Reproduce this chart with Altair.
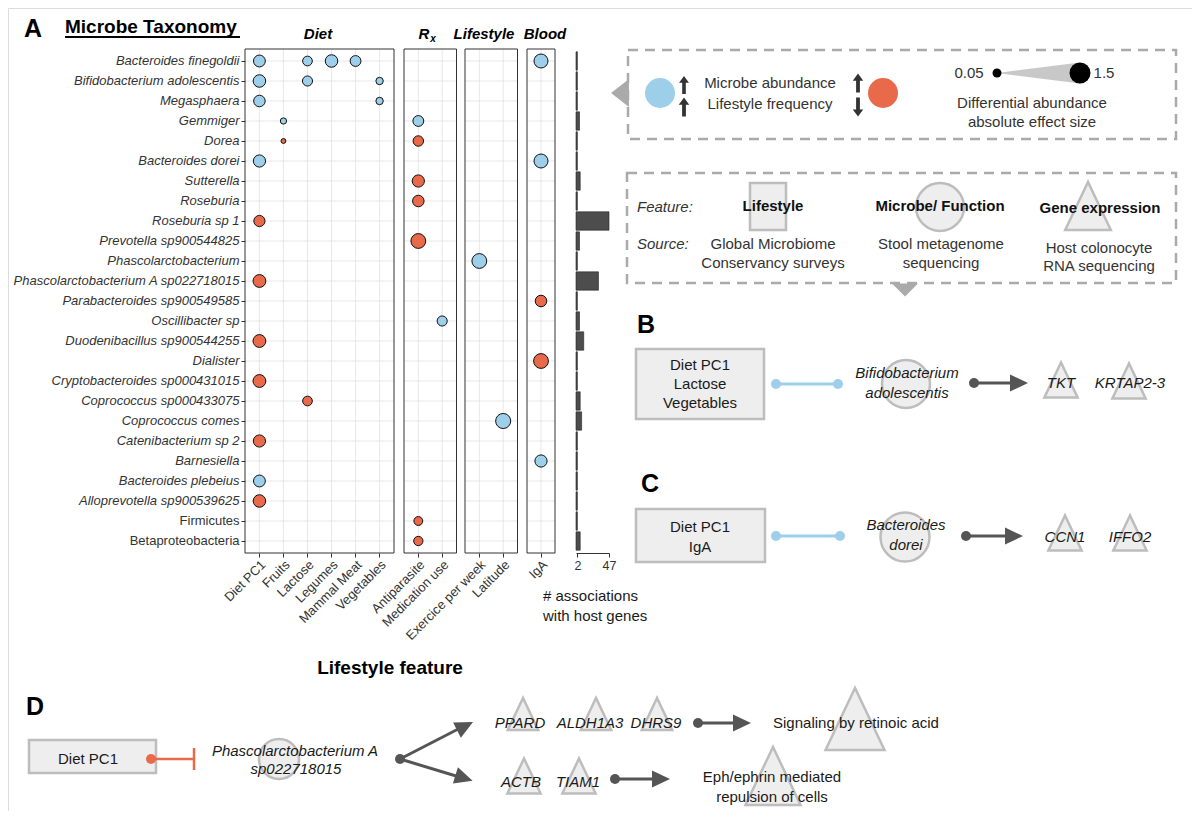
import altair as alt
import pandas as pd

FONT = "Liberation Sans"
BLUE = "#9DCFEB"
RED = "#E96A4B"
SHAPE_FILL = "#EEEEEE"
SHAPE_LINE = "#BDBDBD"
DARK = "#555555"
INK = "#1a1a1a"
W, H = 1184, 803
M = 8  # page margin: layout below is in page pixels

# ---------------- data ----------------
taxa = [
    "Bacteroides finegoldii", "Bifidobacterium adolescentis", "Megasphaera", "Gemmiger", "Dorea",
    "Bacteroides dorei", "Sutterella", "Roseburia", "Roseburia sp 1", "Prevotella sp900544825",
    "Phascolarctobacterium", "Phascolarctobacterium A sp022718015", "Parabacteroides sp900549585",
    "Oscillibacter sp", "Duodenibacillus sp900544255", "Dialister", "Cryptobacteroides sp000431015",
    "Coprococcus sp000433075", "Coprococcus comes", "Catenibacterium sp 2", "Barnesiella",
    "Bacteroides plebeius", "Alloprevotella sp900539625", "Firmicutes", "Betaproteobacteria",
]
upper_rank_taxa = ["Firmicutes", "Betaproteobacteria"]
n_host_gene_assoc = [2, 2, 2, 5, 2, 2, 6, 2, 47, 5, 2, 32, 2, 5, 11, 2, 2, 6, 8, 2, 2, 2, 2, 2, 6]
assoc_ticks = [2, 47]

diet_features = ["Diet PC1", "Fruits", "Lactose", "Legumes", "Mammal Meat", "Vegetables"]
rx_features = ["Antiparasite", "Medication use"]
life_features = ["Exercice per week", "Latitude"]
blood_features = ["IgA"]

assoc_taxon = [
    "Bacteroides finegoldii", "Bacteroides finegoldii", "Bacteroides finegoldii", "Bacteroides finegoldii", "Bacteroides finegoldii",
    "Bifidobacterium adolescentis", "Bifidobacterium adolescentis", "Bifidobacterium adolescentis",
    "Megasphaera", "Megasphaera",
    "Gemmiger", "Gemmiger",
    "Dorea", "Dorea",
    "Bacteroides dorei", "Bacteroides dorei",
    "Sutterella", "Roseburia", "Roseburia sp 1", "Prevotella sp900544825", "Phascolarctobacterium",
    "Phascolarctobacterium A sp022718015", "Parabacteroides sp900549585", "Oscillibacter sp",
    "Duodenibacillus sp900544255", "Dialister", "Cryptobacteroides sp000431015", "Coprococcus sp000433075",
    "Coprococcus comes", "Catenibacterium sp 2", "Barnesiella", "Bacteroides plebeius",
    "Alloprevotella sp900539625", "Firmicutes", "Betaproteobacteria",
]
assoc_feature = [
    "Diet PC1", "Lactose", "Legumes", "Mammal Meat", "IgA",
    "Diet PC1", "Lactose", "Vegetables",
    "Diet PC1", "Vegetables",
    "Fruits", "Antiparasite",
    "Fruits", "Antiparasite",
    "Diet PC1", "IgA",
    "Antiparasite", "Antiparasite", "Diet PC1", "Antiparasite", "Exercice per week",
    "Diet PC1", "IgA", "Medication use",
    "Diet PC1", "IgA", "Diet PC1", "Lactose",
    "Latitude", "Diet PC1", "IgA", "Diet PC1",
    "Diet PC1", "Antiparasite", "Antiparasite",
]
assoc_direction = [
    "up", "up", "up", "up", "up",
    "up", "up", "up",
    "up", "up",
    "up", "up",
    "down", "down",
    "up", "up",
    "down", "down", "down", "down", "up",
    "down", "down", "up",
    "down", "down", "down", "down",
    "up", "down", "up", "up",
    "down", "down", "down",
]
assoc_effect = [
    0.9, 0.6, 1.0, 0.75, 1.25,
    1.0, 0.65, 0.35,
    0.85, 0.35,
    0.25, 0.75,
    0.15, 0.7,
    0.95, 1.25,
    0.95, 0.85, 0.8, 1.4, 1.4,
    1.05, 0.85, 0.65,
    1.05, 1.4, 1.05, 0.6,
    1.45, 0.95, 0.95, 0.9,
    1.0, 0.5, 0.55,
]

# ---------------- layout (page pixels) ----------------
Y_TOP, Y_BOT = 49, 553
PANELS = [
    ("Diet", 245, 394, diet_features),
    ("Rx", 404, 456.5, rx_features),
    ("Lifestyle", 465, 517.5, life_features),
    ("Blood", 527, 555, blood_features),
]
BAR_X = (576, 609)
AXIS_OFFSET = (Y_BOT - M) - H


def px(field):
    return alt.X(f"{field}:Q", scale=alt.Scale(domain=[M, M + W], range=[0, W], nice=False, zero=False), axis=None)


def py(field):
    return alt.Y(f"{field}:Q", scale=alt.Scale(domain=[M, M + H], range=[0, H], nice=False, zero=False), axis=None)


def y_taxon(axis=None):
    return alt.Y("taxon:N", scale=alt.Scale(type="band", domain=taxa, range=[Y_TOP - M, Y_BOT - M],
                                           paddingInner=0, paddingOuter=0.1), axis=axis)


def x_feat(lo, hi, feats, axis=None):
    return alt.X("feature:N", scale=alt.Scale(type="band", domain=feats, range=[lo - M, hi - M],
                                             paddingInner=0, paddingOuter=0.1), axis=axis)


def feat_axis():
    return alt.Axis(orient="bottom", offset=AXIS_OFFSET, labelAngle=-45, labelAlign="right", labelBaseline="top",
                    labelFont=FONT, labelFontSize=13, labelColor="#333333", tickColor="#333333", tickSize=4,
                    domain=False, grid=False, title=None, labelPadding=1, labelLimit=300)


assoc = pd.DataFrame({"taxon": assoc_taxon, "feature": assoc_feature,
                      "direction": assoc_direction, "effect": assoc_effect})
bars_df = pd.DataFrame({"taxon": taxa, "n": n_host_gene_assoc})
taxa_df = pd.DataFrame({"taxon": taxa})

layers = []

# grids, borders and dots of panel A
for name, lo, hi, feats in PANELS:
    feats_df = pd.DataFrame({"feature": feats})
    layers.append(alt.Chart(taxa_df).mark_rule(color="#DEDEDE", strokeWidth=0.7).encode(
        y=y_taxon(), x=alt.value(lo - M), x2=alt.value(hi - M)))
    layers.append(alt.Chart(feats_df).mark_rule(color="#DEDEDE", strokeWidth=0.7).encode(
        x=x_feat(lo, hi, feats), y=alt.value(Y_TOP - M), y2=alt.value(Y_BOT - M)))

border_df = pd.DataFrame({"x": [p[1] for p in PANELS], "x2": [p[2] for p in PANELS],
                          "y": [Y_TOP] * 4, "y2": [Y_BOT] * 4})
layers.append(alt.Chart(border_df).mark_rect(fillOpacity=0, stroke="#333333", strokeWidth=1).encode(
    x=px("x"), x2=alt.X2("x2"), y=py("y"), y2=alt.Y2("y2")))

for i, (name, lo, hi, feats) in enumerate(PANELS):
    sub = assoc[assoc["feature"].isin(feats)]
    yax = None
    if i == 0:
        yax = alt.Axis(orient="left", offset=-(lo - M), labelFont=FONT, labelFontSize=13, labelColor="#333333",
                       labelFontStyle=alt.condition("indexof(" + str(upper_rank_taxa) + ", datum.value) >= 0",
                                                    alt.value("normal"), alt.value("italic")),
                       tickColor="#333333", tickSize=4, domain=False, grid=False, title=None,
                       labelLimit=400, labelPadding=2)
    layers.append(alt.Chart(sub).mark_circle(stroke="#111111", strokeWidth=1, opacity=1).encode(
        x=x_feat(lo, hi, feats, feat_axis()),
        y=y_taxon(yax),
        size=alt.Size("effect:Q", scale=alt.Scale(domain=[0, 1.5], range=[0, 235]), legend=None),
        color=alt.Color("direction:N", scale=alt.Scale(domain=["up", "down"], range=[BLUE, RED]), legend=None),
    ))

layers.append(alt.Chart(bars_df).mark_bar(color="#4D4D4D", stroke="#222222", strokeWidth=0.6,
                                          height={"band": 0.92}).encode(
    x=alt.X("n:Q", scale=alt.Scale(domain=[0, 47], range=[BAR_X[0] - M, BAR_X[1] - M], nice=False),
            axis=alt.Axis(orient="bottom", offset=AXIS_OFFSET, values=assoc_ticks, domain=True,
                          domainColor="#333333", tickColor="#333333", tickSize=4, labelFont=FONT,
                          labelFontSize=12.5, labelColor="#333333", title=None, grid=False, labelPadding=2,
                          labelFlush=False)),
    y=y_taxon()))


# ---------------- schematic helpers ----------------
def rect_layer(boxes, **mark):
    df = pd.DataFrame(boxes, columns=["x", "x2", "y", "y2"])
    return alt.Chart(df).mark_rect(**mark).encode(x=px("x"), x2=alt.X2("x2"), y=py("y"), y2=alt.Y2("y2"))


def sym_layer(items, shape, **mark):
    df = pd.DataFrame(items, columns=["x", "y", "d", "a"])
    df["s"] = df["d"] ** 2
    return alt.Chart(df).mark_point(shape=shape, opacity=1, **mark).encode(
        x=px("x"), y=py("y"), size=alt.Size("s:Q", scale=None), angle=alt.Angle("a:Q", scale=None))


def seg_layer(segs, color, width):
    df = pd.DataFrame(segs, columns=["x", "y", "x2", "y2"])
    return alt.Chart(df).mark_rule(color=color, strokeWidth=width).encode(
        x=px("x"), y=py("y"), x2=alt.X2("x2"), y2=alt.Y2("y2"))


def text_layer(labels, pos, size=15, weight="normal", style="normal", align="center", color=INK):
    df = pd.DataFrame({"label": labels, "x": [p[0] for p in pos], "y": [p[1] for p in pos]})
    return alt.Chart(df).mark_text(font=FONT, fontSize=size, fontWeight=weight, fontStyle=style,
                                   align=align, baseline="middle", color=color).encode(
        x=px("x"), y=py("y"), text="label:N")


TRI = "M0,-1L-0.95,1L0.95,1Z"
HEAD = "M-1,-0.95L1,0L-1,0.95Z"
UP = "M0,-1L0.55,-0.25L0.2,-0.25L0.2,1L-0.2,1L-0.2,-0.25L-0.55,-0.25Z"
LEFT = "M0.64,-1L0.64,1L-0.64,0Z"
DOWN = "M-1,-0.5L1,-0.5L0,0.5Z"

# dashed legend boxes and pointers
layers.append(rect_layer([(628, 1176, 50, 139), (627, 1176, 173, 283)], fillOpacity=0, stroke="#AAAAAA",
                         strokeWidth=2.5, strokeDash=[10, 7]))
layers.append(sym_layer([(620, 93, 28, 0)], LEFT, fill="#AAAAAA", strokeWidth=0))
layers.append(sym_layer([(905, 290, 26, 0)], DOWN, fill="#AAAAAA", strokeWidth=0))

# gray feature shapes
layers.append(rect_layer([(750, 786, 183, 230), (636, 764, 349, 419), (636, 765, 509, 562), (29, 156, 740, 773)],
                         fill=SHAPE_FILL, stroke=SHAPE_LINE, strokeWidth=2.5))
layers.append(sym_layer([(940, 207, 48, 0), (906, 384, 48, 0), (905, 537, 49, 0), (279, 759, 40, 0)], "circle",
                        fill=SHAPE_FILL, stroke=SHAPE_LINE, strokeWidth=2.5))
layers.append(sym_layer([(1088, 206, 48, 0), (1061, 380, 35, 0), (1129, 381, 35, 0), (1065, 533, 35, 0),
                         (1130, 533, 35, 0), (523, 714, 32, 0), (596, 714, 32, 0), (657, 714, 32, 0),
                         (524, 776, 35, 0), (579, 776, 35, 0), (855, 719, 62, 0), (773, 776, 58, 0)], TRI,
                        fill=SHAPE_FILL, stroke=SHAPE_LINE, strokeWidth=2.5))

# legend 1 symbols
layers.append(sym_layer([(660, 93, 30, 0)], "circle", fill=BLUE, strokeWidth=0))
layers.append(sym_layer([(883, 93, 30, 0)], "circle", fill=RED, strokeWidth=0))
layers.append(sym_layer([(684, 85, 18, 0), (684, 107, 19, 0), (858, 83, 19, 0), (858, 107, 19, 180)], UP,
                        fill="#333333", strokeWidth=0))
wedge = pd.DataFrame({"x": [997, 1080], "y": [73, 62.5], "y2": [73, 83.5]})
layers.append(alt.Chart(wedge).mark_area(color="#C8C8C8").encode(x=px("x"), y=py("y"), y2=alt.Y2("y2")))
layers.append(sym_layer([(997, 73, 9, 0), (1080, 73, 21, 0)], "circle", fill="#000000", strokeWidth=0))

# connectors
layers.append(seg_layer([(776, 384, 838, 384), (776, 536, 840, 536)], BLUE, 3))
layers.append(sym_layer([(776, 384, 10, 0), (838, 384, 10, 0), (776, 536, 10, 0), (840, 536, 10, 0)], "circle",
                        fill=BLUE, strokeWidth=0))
layers.append(seg_layer([(974, 383, 1014, 383), (966, 536, 1009, 536), (698, 723, 738, 723), (615, 779, 656, 779),
                         (400, 759, 466, 725), (400, 759, 466, 779)], DARK, 3))
layers.append(sym_layer([(974, 383, 10, 0), (966, 536, 10, 0), (698, 723, 10, 0), (615, 779, 10, 0),
                         (400, 759, 10, 0)], "circle", fill=DARK, strokeWidth=0))
layers.append(sym_layer([(1019, 383, 18, 0), (1014, 536, 18, 0), (742, 723, 18, 0), (661, 779, 18, 0),
                         (465, 726, 18, 333), (464, 778, 18, 17)], HEAD, fill=DARK, strokeWidth=0))
layers.append(seg_layer([(151, 759, 194, 759), (194, 748, 194, 770)], RED, 2.5))
layers.append(sym_layer([(151, 759, 10, 0)], "circle", fill=RED, strokeWidth=0))

# ---------------- texts ----------------
layers.append(text_layer(["A", "B", "C", "D"], [(33, 29), (646, 325), (650, 484), (35, 707)], size=25,
                         weight="bold", color="#000000"))
layers.append(text_layer(["Microbe Taxonomy"], [(65, 27)], size=19, weight="bold", align="left", color="#000000"))
layers.append(seg_layer([(65, 37, 240, 37)], "#000000", 1.8))
layers.append(text_layer(["Diet", "R", "Lifestyle", "Blood"], [(318, 34), (424, 34), (484, 34), (545, 34)],
                         size=15, weight="bold", style="italic", color="#000000"))
layers.append(text_layer(["x"], [(433, 39)], size=10, weight="bold", style="italic", color="#000000"))
layers.append(text_layer(["Lifestyle feature"], [(390, 668)], size=19, weight="bold", color="#000000"))
layers.append(text_layer(["# associations", "with host genes"], [(543, 596), (543, 616)], size=15, align="left"))

layers.append(text_layer(
    ["Microbe abundance", "Lifestyle frequency", "0.05", "1.5", "Differential abundance", "absolute effect size",
     "Global Microbiome", "Conservancy surveys", "Stool metagenome", "sequencing", "Host colonocyte",
     "RNA sequencing"],
    [(770, 83), (770, 104), (969, 73), (1104, 73), (1032, 103), (1032, 122), (773, 244), (773, 263),
     (941, 244), (941, 263), (1099, 248), (1099, 266)], size=15, color="#333333"))
layers.append(text_layer(["Feature:", "Source:"], [(637, 207), (637, 244)], size=15, style="italic",
                         align="left", color="#333333"))
layers.append(text_layer(["Lifestyle", "Microbe/ Function", "Gene expression"], [(773, 206), (940, 206), (1100, 208)],
                         size=15, weight="bold", color="#111111"))

layers.append(text_layer(
    ["Diet PC1", "Lactose", "Vegetables", "Diet PC1", "IgA", "Diet PC1", "Signaling by retinoic acid",
     "Eph/ephrin mediated", "repulsion of cells"],
    [(700, 365), (700, 384), (700, 403), (700, 527), (700, 547), (88, 759), (856, 723), (772, 777), (772, 797)],
    size=15))
layers.append(text_layer(
    ["Bifidobacterium", "adolescentis", "TKT", "KRTAP2-3", "Bacteroides", "dorei", "CCN1", "IFFO2",
     "Phascolarctobacterium A", "sp022718015", "PPARD", "ALDH1A3", "DHRS9", "ACTB", "TIAM1"],
    [(907, 373), (907, 393), (1061, 383), (1130, 383), (906, 525), (906, 545), (1065, 537), (1130, 537),
     (295, 751), (296, 769), (520, 723), (590, 723), (656, 723), (521, 782), (578, 782)],
    size=15, style="italic"))

chart = alt.layer(*layers).resolve_scale(x="independent", y="independent").properties(
    width=W, height=H, padding=0, autosize=alt.AutoSizeParams(type="none")
).configure_view(stroke=None).configure(font=FONT)

chart.save("out.html", embed_options={"renderer": "svg", "actions": False})
